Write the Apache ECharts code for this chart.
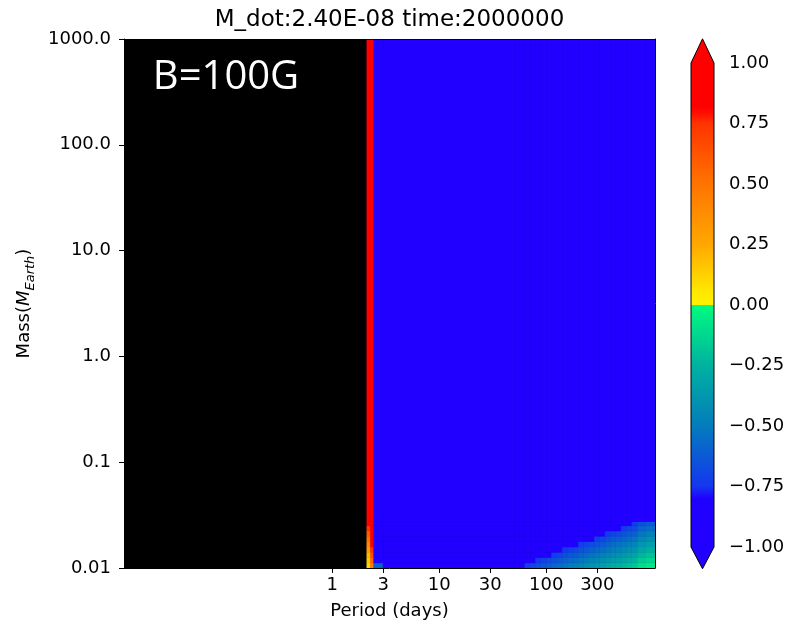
<!DOCTYPE html>
<html><head><meta charset="utf-8">
<script src="https://cdn.jsdelivr.net/npm/echarts@6/dist/echarts.min.js"></script>
<style>html,body{margin:0;padding:0;background:#fff}#c{width:793px;height:629px}</style>
</head><body><div id="c"></div>
<script>
// ---------- data ----------
const titleText = 'M_dot:2.40E-08 time:2000000';
const annotationText = 'B=100G';
const xTicks = [1, 3, 10, 30, 100, 300];
const yTicks = [0.01, 0.1, 1, 10, 100, 1000];
const periodRange = [0.01137, 1037];
const massRange = [0.01, 1000];
const cbRange = [-1, 1];
const cbInterval = 0.25;
// cell edges (period in days, mass in Earth masses); periods below the first edge have no data (black)
const periodEdges = [2.11, 2.28, 2.45, 3.0, 50.1,
  56.2, 63.1, 70.8, 79.4, 89.1, 100, 112, 126, 141, 158, 178, 200, 224, 251, 282,
  316, 355, 398, 447, 501, 562, 631, 708, 851, 1037];
const massEdges = [0.01, 0.0112, 0.0126, 0.0141, 0.0158, 0.0178, 0.02, 0.0224, 0.0251, 0.0275, 1000];
// rows from lowest mass upward; one value per period cell
const row0 = [0.10, 0.45, -0.60, -1,  -1, -1, -0.72, -0.69, -0.67, -0.64, -0.61, -0.58, -0.56, -0.53, -0.50, -0.48, -0.45, -0.42, -0.39, -0.37, -0.34, -0.31, -0.28, -0.26, -0.23, -0.20, -0.18, -0.10, -0.07];
const row1 = [0.15, 0.55, -0.80, -1,  -1, -1, -1, -1, -0.74, -0.71, -0.68, -0.65, -0.63, -0.60, -0.57, -0.55, -0.52, -0.49, -0.46, -0.44, -0.41, -0.38, -0.35, -0.33, -0.30, -0.27, -0.25, -0.17, -0.13];
const row2 = [0.20, 0.65, -1, -1,  -1, -1, -1, -1, -1, -1, -1, -0.72, -0.70, -0.67, -0.64, -0.62, -0.59, -0.56, -0.53, -0.51, -0.48, -0.45, -0.42, -0.40, -0.37, -0.34, -0.32, -0.24, -0.20];
const row3 = [0.30, 0.75, -1, -1,  -1, -1, -1, -1, -1, -1, -1, -1, -1, -0.74, -0.71, -0.69, -0.66, -0.63, -0.60, -0.58, -0.55, -0.52, -0.49, -0.47, -0.44, -0.41, -0.39, -0.31, -0.27];
const row4 = [0.40, 0.85, -1, -1,  -1, -1, -1, -1, -1, -1, -1, -1, -1, -1, -1, -1, -0.73, -0.70, -0.67, -0.65, -0.62, -0.59, -0.56, -0.54, -0.51, -0.48, -0.46, -0.38, -0.34];
const row5 = [0.50, 0.90, -1, -1,  -1, -1, -1, -1, -1, -1, -1, -1, -1, -1, -1, -1, -1, -1, -1, -0.72, -0.69, -0.66, -0.63, -0.61, -0.58, -0.55, -0.53, -0.45, -0.41];
const row6 = [0.60, 1, -1, -1,  -1, -1, -1, -1, -1, -1, -1, -1, -1, -1, -1, -1, -1, -1, -1, -1, -1, -0.73, -0.70, -0.68, -0.65, -0.62, -0.60, -0.52, -0.48];
const row7 = [0.75, 1, -1, -1,  -1, -1, -1, -1, -1, -1, -1, -1, -1, -1, -1, -1, -1, -1, -1, -1, -1, -1, -1, -1, -0.72, -0.69, -0.67, -0.59, -0.55];
const row8 = [0.85, 1, -1, -1,  -1, -1, -1, -1, -1, -1, -1, -1, -1, -1, -1, -1, -1, -1, -1, -1, -1, -1, -1, -1, -1, -1, -0.73, -0.66, -0.62];
const row9 = [1, 1, -1, -1,  -1, -1, -1, -1, -1, -1, -1, -1, -1, -1, -1, -1, -1, -1, -1, -1, -1, -1, -1, -1, -1, -1, -1, -1, -1];
const values = [row0, row1, row2, row3, row4, row5, row6, row7, row8, row9];

// ---------- colour map (style) ----------
const cmapStops = [
  [-1, '#2200ff'], [-0.8, '#2000ff'], [-0.75, '#1436f0'], [-0.5, '#047cbc'],
  [-0.25, '#00b2a0'], [-0.02, '#00f682'], [0, '#00ff80'],
  [0, '#fff200'], [0.06, '#ffe600'], [0.25, '#ffa800'], [0.5, '#ff7400'], [0.75, '#ff3400'],
  [0.8, '#ff0a00'], [0.82, '#ff0000'], [1, '#ff0000']
];
function hex2rgb(h){return [parseInt(h.slice(1,3),16),parseInt(h.slice(3,5),16),parseInt(h.slice(5,7),16)];}
function cmap(v){
  if (v <= cmapStops[0][0]) return cmapStops[0][1];
  for (let i = 0; i < cmapStops.length - 1; i++) {
    const a = cmapStops[i], b = cmapStops[i+1];
    if (v <= b[0] && b[0] > a[0]) {
      const t = (v - a[0]) / (b[0] - a[0]);
      const ca = hex2rgb(a[1]), cb = hex2rgb(b[1]);
      return 'rgb(' + ca.map((c,k)=>Math.round(c + (cb[k]-c)*t)).join(',') + ')';
    }
  }
  return cmapStops[cmapStops.length-1][1];
}

// ---------- build cells ----------
const cells = [];
for (let r = 0; r < values.length; r++) {
  for (let c = 0; c < values[r].length; c++) {
    cells.push([periodEdges[c], periodEdges[c+1], massEdges[r], massEdges[r+1], values[r][c]]);
  }
}

const FONT = 'DejaVu Sans';
const chart = echarts.init(document.getElementById('c'), null, {renderer:'canvas'});
const plainAxis = {
  axisLine:{show:true, lineStyle:{color:'#000', width:1}},
  splitLine:{show:false}, minorTick:{show:false}, minorSplitLine:{show:false}
};
chart.setOption({
  animation:false,
  backgroundColor:'#fff',
  grid:[
    {left:124, right:138, top:39, bottom:61, show:true, backgroundColor:'#000', borderWidth:0},
    {left:691, width:23, top:63, bottom:82}
  ],
  xAxis:[
    Object.assign({}, plainAxis, {
      type:'log', logBase:10, gridIndex:0, min:periodRange[0], max:periodRange[1], z:5,
      name:'Period (days)', nameLocation:'middle', nameGap:34,
      nameTextStyle:{fontSize:18, color:'#000', fontFamily:FONT},
      axisTick:{show:true, customValues:xTicks, length:5, lineStyle:{color:'#000'}},
      axisLabel:{show:true, customValues:xTicks, fontSize:18, color:'#000', fontFamily:FONT, margin:8,
        formatter:function(v){return String(Math.round(v));}}
    }),
    Object.assign({}, plainAxis, {
      type:'log', logBase:10, gridIndex:0, position:'top', min:periodRange[0], max:periodRange[1], z:5,
      axisTick:{show:false}, axisLabel:{show:false}
    }),
    {type:'value', gridIndex:1, min:0, max:1, show:false}
  ],
  yAxis:[
    Object.assign({}, plainAxis, {
      type:'log', logBase:10, gridIndex:0, min:massRange[0], max:massRange[1], z:5,
      name:'{a|Mass(}{b|M}{c|Earth}{a|)}', nameLocation:'middle', nameRotate:90, nameGap:84,
      nameTextStyle:{color:'#000', fontFamily:FONT, rich:{
        a:{fontSize:18, fontFamily:FONT, color:'#000', lineHeight:26, verticalAlign:'middle'},
        b:{fontSize:18, fontFamily:FONT, fontStyle:'italic', color:'#000', lineHeight:26, verticalAlign:'middle'},
        c:{fontSize:13, fontFamily:FONT, fontStyle:'italic', color:'#000', lineHeight:15, verticalAlign:'bottom'}
      }},
      axisTick:{show:true, customValues:yTicks, length:5, lineStyle:{color:'#000'}},
      axisLabel:{show:true, customValues:yTicks, fontSize:18, color:'#000', fontFamily:FONT, margin:13,
        formatter:function(v){return v < 0.05 ? v.toFixed(2) : v.toFixed(1);}}
    }),
    Object.assign({}, plainAxis, {
      type:'log', logBase:10, gridIndex:0, position:'right', min:massRange[0], max:massRange[1], z:5,
      axisTick:{show:false}, axisLabel:{show:false}
    }),
    {
      type:'value', gridIndex:1, position:'right', min:cbRange[0], max:cbRange[1], interval:cbInterval,
      axisLine:{show:false}, splitLine:{show:false},
      axisTick:{show:true, length:6, lineStyle:{color:'#000'}},
      axisLabel:{show:true, fontSize:18, color:'#000', fontFamily:FONT, margin:15,
        formatter:function(v){return (v < 0 ? '\u2212' : '') + Math.abs(v).toFixed(2);}}
    }
  ],
  series:[
    {
      type:'custom', xAxisIndex:0, yAxisIndex:0, clip:true, z:2,
      dimensions:['p0','p1','m0','m1','v'], encode:{x:[0,1], y:[2,3]},
      data:cells,
      renderItem:function(params, api){
        const a = api.coord([api.value(0), api.value(3)]);
        const b = api.coord([api.value(1), api.value(2)]);
        const col = cmap(api.value(4));
        return {type:'rect', shape:{x:a[0], y:a[1], width:b[0]-a[0], height:b[1]-a[1]},
          style:{fill:col, stroke:col, lineWidth:0.6}};
      }
    },
    {
      type:'custom', xAxisIndex:2, yAxisIndex:2, clip:false, z:3,
      data:[[0, 0]],
      renderItem:function(params, api){
        const tl = api.coord([0, cbRange[1]]);
        const br = api.coord([1, cbRange[0]]);
        const tip = api.coord([0.5, cbRange[1] + 0.1]);
        const btip = api.coord([0.5, cbRange[0] - 0.09]);
        const stops = cmapStops.map(function(s){
          return {offset:(cbRange[1] - s[0])/(cbRange[1]-cbRange[0]), color:s[1]};
        }).reverse();
        return {type:'group', children:[
          {type:'rect', shape:{x:tl[0], y:tl[1], width:br[0]-tl[0], height:br[1]-tl[1]},
            style:{fill:{type:'linear', x:0, y:0, x2:0, y2:1, colorStops:stops}}},
          {type:'polygon', shape:{points:[[tl[0], tl[1]], [tip[0], tip[1]], [br[0], tl[1]]]},
            style:{fill:cmap(cbRange[1])}},
          {type:'polygon', shape:{points:[[tl[0], br[1]], [btip[0], btip[1]], [br[0], br[1]]]},
            style:{fill:cmap(cbRange[0])}},
          {type:'polygon', shape:{points:[[tl[0], tl[1]], [tip[0], tip[1]], [br[0], tl[1]], [br[0], br[1]], [btip[0], btip[1]], [tl[0], br[1]]]},
            style:{fill:'none', stroke:'#000', lineWidth:1}}
        ]};
      }
    }
  ],
  graphic:[
    {type:'text', x:389.5, y:20, z:10, style:{text:titleText, fill:'#000', font:'23px "DejaVu Sans"', textAlign:'center', textVerticalAlign:'middle'}},
    {type:'text', x:226, y:78, z:10, style:{text:annotationText, fill:'#fff', font:'40px "Open Sans"', textAlign:'center', textVerticalAlign:'middle'}}
  ]
});
</script>
</body></html>
